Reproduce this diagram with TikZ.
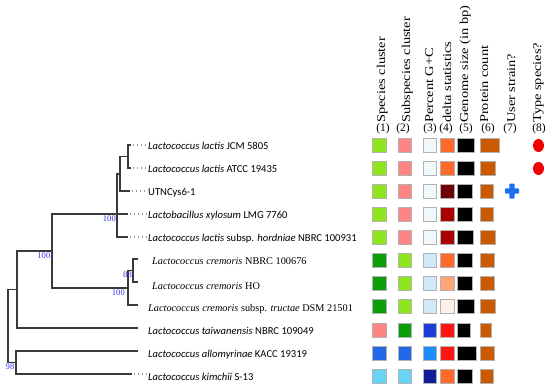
\documentclass[tikz,border=0pt]{standalone}
\usepackage{fontspec}
\setmainfont{Liberation Serif}
\newfontfamily\calib{Carlito}
\usetikzlibrary{calc, positioning, shapes.geometric}
\definecolor{lgreen}{HTML}{8EE41F}
\definecolor{pinkc}{HTML}{FF8585}
\definecolor{dgreen}{HTML}{0A9E0A}
\definecolor{bluec}{HTML}{2468E8}
\definecolor{skyc}{HTML}{6AD4F4}
\definecolor{gcpale}{HTML}{F0F8FC}
\definecolor{gclight}{HTML}{D0E9F6}
\definecolor{gcroyal}{HTML}{1E3CD6}
\definecolor{gcdodger}{HTML}{1E8CF8}
\definecolor{gcnavy}{HTML}{0F1E96}
\definecolor{dorange}{HTML}{FF6A2A}
\definecolor{dmaroon}{HTML}{6E0008}
\definecolor{dred}{HTML}{A80202}
\definecolor{dsalmon}{HTML}{FFA677}
\definecolor{dpale}{HTML}{FFF1E8}
\definecolor{dredb}{HTML}{FF1414}
\definecolor{protc}{HTML}{CC5A00}
\definecolor{tsred}{HTML}{F00000}
\definecolor{usblue}{HTML}{1E6EF0}
\definecolor{branchc}{HTML}{3A3A3A}
\definecolor{bsblue}{HTML}{3333EE}
\newcommand{\cell}[5]{%
  \node[cellbox, fill=#3, minimum width=#4pt, anchor=#5] (#1) at #2 {};
}
\newcommand{\colhead}[4]{%
  \node[hdr] (h#1) at (#2,123) {\scalebox{1.2}[1]{#3}};
  \node[hdrnum] (n#1) at (#4,128.5) {(#1)};
}

\begin{document}
\begin{tikzpicture}[x=1pt, y=-1pt,
    branch/.style={branchc, line width=1.2pt},
    leader/.style={black!40, line width=1.1pt, dash pattern=on 1.1pt off 3pt},
    bs/.style={bsblue, font=\fontsize{8.6}{9}\selectfont, inner sep=0pt, anchor=north east},
    sp/.style={font=\calib\fontsize{10.6}{12}\selectfont, inner sep=0pt, anchor=base west},
    tm/.style={font=\fontsize{10.3}{12}\selectfont, inner sep=0pt, anchor=base west},
    hdr/.style={rotate=90, anchor=west, inner sep=0pt, text height=8.5pt, text depth=2.5pt,
                font=\fontsize{12}{12}\selectfont},
    hdrnum/.style={inner sep=0pt, font=\fontsize{11.5}{12}\selectfont},
    cellbox/.style={rectangle, draw=black!30, line width=0.7pt, minimum height=14pt, inner sep=0pt}]
  \useasboundingbox (0,0) rectangle (550,391);
  % column headers
  \colhead{1}{382}{Species cluster}{383}
  \colhead{2}{407}{Subspecies cluster}{403}
  \colhead{3}{430}{Percent G+C}{430}
  \colhead{4}{448}{delta statistics}{446}
  \colhead{5}{465}{Genome size (in bp)}{466}
  \colhead{6}{485}{Protein count}{488}
  \colhead{7}{512}{User strain?}{510}
  \colhead{8}{538}{Type species?}{539}
  % strain labels
  \node[sp] (l1) at (148,149) {\textit{Lactococcus lactis} JCM 5805};
  \node[sp] (l2) at (148,172) {\textit{Lactococcus lactis} ATCC 19435};
  \node[sp] (l3) at (148,195) {UTNCys6-1};
  \node[sp] (l4) at (148,218) {\textit{Lactobacillus xylosum} LMG 7760};
  \node[sp] (l5) at (148,241) {\textit{Lactococcus lactis} subsp. \textit{hordniae} NBRC 100931};
  \node[tm] (l6) at (152,264) {\textit{Lactococcus cremoris} NBRC 100676};
  \node[tm] (l7) at (152,289) {\textit{Lactococcus cremoris} HO};
  \node[tm] (l8) at (148,311) {\textit{Lactococcus cremoris} subsp. \textit{tructae} DSM 21501};
  \node[sp] (l9) at (148,334) {\textit{Lactococcus taiwanensis} NBRC 109049};
  \node[sp] (l10) at (148,357) {\textit{Lactococcus allomyrinae} KACC 19319};
  \node[sp] (l11) at (148,380) {\textit{Lactococcus kimchii} S-13};
  % tips and inner nodes of the tree
  \coordinate (t1) at (131,145);
  \coordinate (t2) at (131,168);
  \coordinate (t3) at (130,191);
  \coordinate (t4) at (128,214);
  \coordinate (t5) at (128,237);
  \coordinate (t6) at (138,259);
  \coordinate (t7) at (138,282);
  \coordinate (t8) at (138,305);
  \coordinate (t9) at (138,328);
  \coordinate (t10) at (138,351);
  \coordinate (t11) at (132,374);
  \coordinate (nA) at (128,156.5);
  \coordinate (nB) at (120,174);
  \coordinate (nC) at (117,214);
  \coordinate (nG) at (133,270.5);
  \coordinate (nF) at (128,288);
  \coordinate (nD) at (52,251);
  \coordinate (nE) at (17,289.5);
  \coordinate (nH) at (16,362.5);
  \coordinate (root) at (8,326);
  \draw[branch] (nA) |- (t1) (nA) |- (t2)
                (nB) |- (nA) (nB) |- (t3)
                (nC) |- (nB) (nC) |- (t4) (nC) |- (t5)
                (nG) |- (t6) (nG) |- (t7)
                (nF) |- (nG) (nF) |- (t8)
                (nD) |- (nC) (nD) |- (nF)
                (nE) |- (nD) (nE) |- (t9)
                (nH) |- (t10) (nH) |- (t11)
                (root) |- (nE) (root) |- (nH);
  \draw[branch, line width=2.2pt] (nC) -- ($(nC)+(0,-21)$);
  \foreach \i in {1,...,5,11}
    \draw[leader] ($(t\i)+(2,0)$) -- ($(t\i -| l\i.west)+(-1,0)$);
  % bootstrap values
  \node[bs] (bC) at ($(nC)+(-1,1.5)$) {100};
  \node[bs] (bD) at ($(nD)+(-1.5,1.5)$) {100};
  \node[bs] (bG) at ($(nG)+(-1,1.5)$) {88};
  \node[bs] (bF) at ($(nF)+(-3,1.5)$) {100};
  \node[bs] (bH) at ($(nH)+(-1.5,1.5)$) {98};
  % trait cells
  \foreach \y/\ca/\cb/\cc/\cd/\we/\wf [count=\r] in
      {145/lgreen/pinkc/gcpale/dorange/17/19, 168/lgreen/pinkc/gcpale/dorange/17/15,
       191/lgreen/pinkc/gcpale/dmaroon/15/13, 214/lgreen/pinkc/gcpale/dred/15/13,
       237/lgreen/pinkc/gcpale/dred/16/15, 260/dgreen/lgreen/gclight/dorange/15/14,
       283/dgreen/lgreen/gclight/dsalmon/15/14, 306/dgreen/lgreen/gclight/dpale/17/15,
       330/pinkc/dgreen/gcroyal/dredb/13/11, 353/bluec/bluec/gcdodger/dredb/19/14,
       376/skyc/skyc/gcnavy/dorange/15/13} {
    \cell{a\r}{(379.5,\y)}{\ca}{13.5}{center}
    \cell{b\r}{(405,\y)}{\cb}{13.5}{center}
    \cell{c\r}{(430,\y)}{\cc}{13.5}{center}
    \cell{d\r}{(447.5,\y)}{\cd}{13.5}{center}
    \cell{e\r}{(457,\y)}{black}{\we}{west}
    \cell{f\r}{(480,\y)}{protc}{\wf}{west}
  }
  % user strain and type species marks
  \coordinate (us3) at (512,191);
  \fill[usblue, rounded corners=0.8pt] ($(us3)+(-7,-2.6)$) rectangle ($(us3)+(7,2.6)$)
                                       ($(us3)+(-2.6,-7.5)$) rectangle ($(us3)+(2.6,7.5)$);
  \node[ellipse, fill=tsred, minimum width=11pt, minimum height=13pt, inner sep=0pt] (ts1) at (538.5,145.5) {};
  \node[ellipse, fill=tsred, minimum width=11pt, minimum height=13pt, inner sep=0pt] (ts2) at (538.5,168.5) {};
\end{tikzpicture}
\end{document}
